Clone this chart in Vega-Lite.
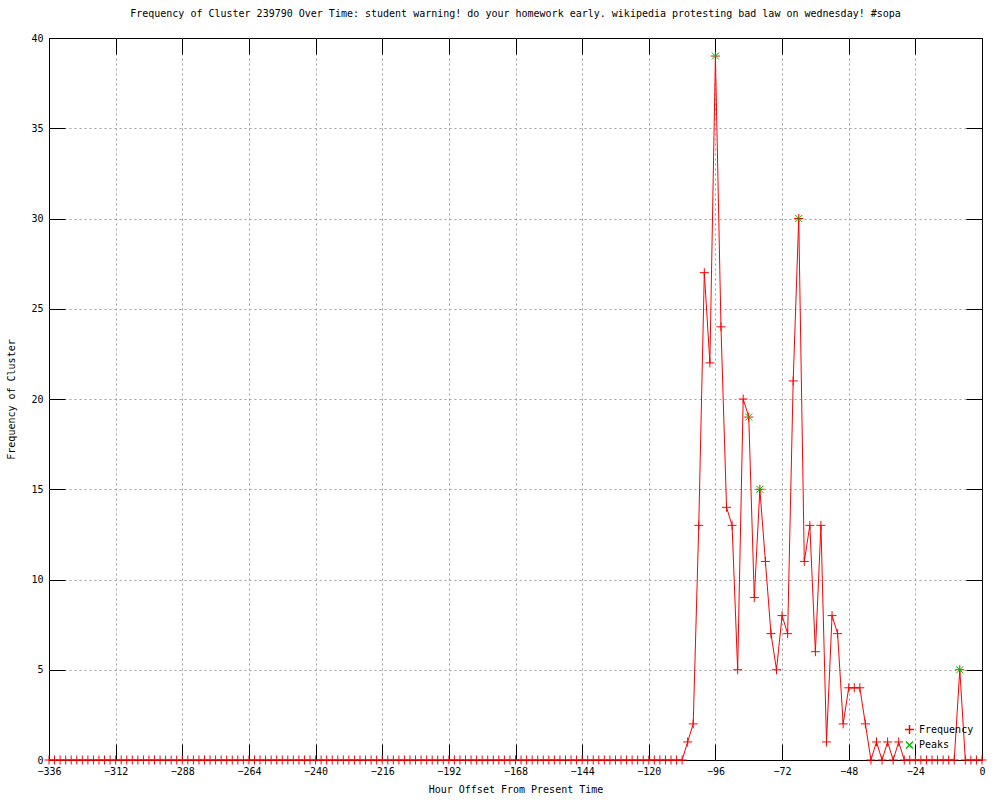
{
  "$schema": "https://vega.github.io/schema/vega-lite/v6.json",
  "autosize": "none",
  "width": 933,
  "height": 722,
  "padding": {"left": 49, "top": 38, "right": 18, "bottom": 40},
  "background": "white",
  "config": {
    "font": "DejaVu Sans Mono",
    "view": {"stroke": "black", "strokeWidth": 1},
    "axis": {
      "labelFont": "DejaVu Sans Mono",
      "titleFont": "DejaVu Sans Mono",
      "labelFontSize": 10,
      "titleFontSize": 10,
      "titleFontWeight": "normal",
      "labelColor": "black",
      "titleColor": "black",
      "domain": false,
      "tickColor": "black",
      "tickSize": -16,
      "gridColor": "#a0a0a0",
      "gridDash": [2, 3]
    },
    "legend": {
      "labelFont": "DejaVu Sans Mono",
      "labelFontSize": 10,
      "labelColor": "black"
    }
  },
  "title": {
    "text": "Frequency of Cluster 239790 Over Time: student warning! do your homework early. wikipedia protesting bad law on wednesday! #sopa",
    "font": "DejaVu Sans Mono",
    "fontSize": 10,
    "fontWeight": "normal",
    "color": "black",
    "offset": 14
  },
  "data": {
    "values": [
      {"hour": -336, "count": 0, "series": "Frequency"},
      {"hour": -334, "count": 0, "series": "Frequency"},
      {"hour": -332, "count": 0, "series": "Frequency"},
      {"hour": -330, "count": 0, "series": "Frequency"},
      {"hour": -328, "count": 0, "series": "Frequency"},
      {"hour": -326, "count": 0, "series": "Frequency"},
      {"hour": -324, "count": 0, "series": "Frequency"},
      {"hour": -322, "count": 0, "series": "Frequency"},
      {"hour": -320, "count": 0, "series": "Frequency"},
      {"hour": -318, "count": 0, "series": "Frequency"},
      {"hour": -316, "count": 0, "series": "Frequency"},
      {"hour": -314, "count": 0, "series": "Frequency"},
      {"hour": -312, "count": 0, "series": "Frequency"},
      {"hour": -310, "count": 0, "series": "Frequency"},
      {"hour": -308, "count": 0, "series": "Frequency"},
      {"hour": -306, "count": 0, "series": "Frequency"},
      {"hour": -304, "count": 0, "series": "Frequency"},
      {"hour": -302, "count": 0, "series": "Frequency"},
      {"hour": -300, "count": 0, "series": "Frequency"},
      {"hour": -298, "count": 0, "series": "Frequency"},
      {"hour": -296, "count": 0, "series": "Frequency"},
      {"hour": -294, "count": 0, "series": "Frequency"},
      {"hour": -292, "count": 0, "series": "Frequency"},
      {"hour": -290, "count": 0, "series": "Frequency"},
      {"hour": -288, "count": 0, "series": "Frequency"},
      {"hour": -286, "count": 0, "series": "Frequency"},
      {"hour": -284, "count": 0, "series": "Frequency"},
      {"hour": -282, "count": 0, "series": "Frequency"},
      {"hour": -280, "count": 0, "series": "Frequency"},
      {"hour": -278, "count": 0, "series": "Frequency"},
      {"hour": -276, "count": 0, "series": "Frequency"},
      {"hour": -274, "count": 0, "series": "Frequency"},
      {"hour": -272, "count": 0, "series": "Frequency"},
      {"hour": -270, "count": 0, "series": "Frequency"},
      {"hour": -268, "count": 0, "series": "Frequency"},
      {"hour": -266, "count": 0, "series": "Frequency"},
      {"hour": -264, "count": 0, "series": "Frequency"},
      {"hour": -262, "count": 0, "series": "Frequency"},
      {"hour": -260, "count": 0, "series": "Frequency"},
      {"hour": -258, "count": 0, "series": "Frequency"},
      {"hour": -256, "count": 0, "series": "Frequency"},
      {"hour": -254, "count": 0, "series": "Frequency"},
      {"hour": -252, "count": 0, "series": "Frequency"},
      {"hour": -250, "count": 0, "series": "Frequency"},
      {"hour": -248, "count": 0, "series": "Frequency"},
      {"hour": -246, "count": 0, "series": "Frequency"},
      {"hour": -244, "count": 0, "series": "Frequency"},
      {"hour": -242, "count": 0, "series": "Frequency"},
      {"hour": -240, "count": 0, "series": "Frequency"},
      {"hour": -238, "count": 0, "series": "Frequency"},
      {"hour": -236, "count": 0, "series": "Frequency"},
      {"hour": -234, "count": 0, "series": "Frequency"},
      {"hour": -232, "count": 0, "series": "Frequency"},
      {"hour": -230, "count": 0, "series": "Frequency"},
      {"hour": -228, "count": 0, "series": "Frequency"},
      {"hour": -226, "count": 0, "series": "Frequency"},
      {"hour": -224, "count": 0, "series": "Frequency"},
      {"hour": -222, "count": 0, "series": "Frequency"},
      {"hour": -220, "count": 0, "series": "Frequency"},
      {"hour": -218, "count": 0, "series": "Frequency"},
      {"hour": -216, "count": 0, "series": "Frequency"},
      {"hour": -214, "count": 0, "series": "Frequency"},
      {"hour": -212, "count": 0, "series": "Frequency"},
      {"hour": -210, "count": 0, "series": "Frequency"},
      {"hour": -208, "count": 0, "series": "Frequency"},
      {"hour": -206, "count": 0, "series": "Frequency"},
      {"hour": -204, "count": 0, "series": "Frequency"},
      {"hour": -202, "count": 0, "series": "Frequency"},
      {"hour": -200, "count": 0, "series": "Frequency"},
      {"hour": -198, "count": 0, "series": "Frequency"},
      {"hour": -196, "count": 0, "series": "Frequency"},
      {"hour": -194, "count": 0, "series": "Frequency"},
      {"hour": -192, "count": 0, "series": "Frequency"},
      {"hour": -190, "count": 0, "series": "Frequency"},
      {"hour": -188, "count": 0, "series": "Frequency"},
      {"hour": -186, "count": 0, "series": "Frequency"},
      {"hour": -184, "count": 0, "series": "Frequency"},
      {"hour": -182, "count": 0, "series": "Frequency"},
      {"hour": -180, "count": 0, "series": "Frequency"},
      {"hour": -178, "count": 0, "series": "Frequency"},
      {"hour": -176, "count": 0, "series": "Frequency"},
      {"hour": -174, "count": 0, "series": "Frequency"},
      {"hour": -172, "count": 0, "series": "Frequency"},
      {"hour": -170, "count": 0, "series": "Frequency"},
      {"hour": -168, "count": 0, "series": "Frequency"},
      {"hour": -166, "count": 0, "series": "Frequency"},
      {"hour": -164, "count": 0, "series": "Frequency"},
      {"hour": -162, "count": 0, "series": "Frequency"},
      {"hour": -160, "count": 0, "series": "Frequency"},
      {"hour": -158, "count": 0, "series": "Frequency"},
      {"hour": -156, "count": 0, "series": "Frequency"},
      {"hour": -154, "count": 0, "series": "Frequency"},
      {"hour": -152, "count": 0, "series": "Frequency"},
      {"hour": -150, "count": 0, "series": "Frequency"},
      {"hour": -148, "count": 0, "series": "Frequency"},
      {"hour": -146, "count": 0, "series": "Frequency"},
      {"hour": -144, "count": 0, "series": "Frequency"},
      {"hour": -142, "count": 0, "series": "Frequency"},
      {"hour": -140, "count": 0, "series": "Frequency"},
      {"hour": -138, "count": 0, "series": "Frequency"},
      {"hour": -136, "count": 0, "series": "Frequency"},
      {"hour": -134, "count": 0, "series": "Frequency"},
      {"hour": -132, "count": 0, "series": "Frequency"},
      {"hour": -130, "count": 0, "series": "Frequency"},
      {"hour": -128, "count": 0, "series": "Frequency"},
      {"hour": -126, "count": 0, "series": "Frequency"},
      {"hour": -124, "count": 0, "series": "Frequency"},
      {"hour": -122, "count": 0, "series": "Frequency"},
      {"hour": -120, "count": 0, "series": "Frequency"},
      {"hour": -118, "count": 0, "series": "Frequency"},
      {"hour": -116, "count": 0, "series": "Frequency"},
      {"hour": -114, "count": 0, "series": "Frequency"},
      {"hour": -112, "count": 0, "series": "Frequency"},
      {"hour": -110, "count": 0, "series": "Frequency"},
      {"hour": -108, "count": 0, "series": "Frequency"},
      {"hour": -106, "count": 1, "series": "Frequency"},
      {"hour": -104, "count": 2, "series": "Frequency"},
      {"hour": -102, "count": 13, "series": "Frequency"},
      {"hour": -100, "count": 27, "series": "Frequency"},
      {"hour": -98, "count": 22, "series": "Frequency"},
      {"hour": -96, "count": 39, "series": "Frequency"},
      {"hour": -94, "count": 24, "series": "Frequency"},
      {"hour": -92, "count": 14, "series": "Frequency"},
      {"hour": -90, "count": 13, "series": "Frequency"},
      {"hour": -88, "count": 5, "series": "Frequency"},
      {"hour": -86, "count": 20, "series": "Frequency"},
      {"hour": -84, "count": 19, "series": "Frequency"},
      {"hour": -82, "count": 9, "series": "Frequency"},
      {"hour": -80, "count": 15, "series": "Frequency"},
      {"hour": -78, "count": 11, "series": "Frequency"},
      {"hour": -76, "count": 7, "series": "Frequency"},
      {"hour": -74, "count": 5, "series": "Frequency"},
      {"hour": -72, "count": 8, "series": "Frequency"},
      {"hour": -70, "count": 7, "series": "Frequency"},
      {"hour": -68, "count": 21, "series": "Frequency"},
      {"hour": -66, "count": 30, "series": "Frequency"},
      {"hour": -64, "count": 11, "series": "Frequency"},
      {"hour": -62, "count": 13, "series": "Frequency"},
      {"hour": -60, "count": 6, "series": "Frequency"},
      {"hour": -58, "count": 13, "series": "Frequency"},
      {"hour": -56, "count": 1, "series": "Frequency"},
      {"hour": -54, "count": 8, "series": "Frequency"},
      {"hour": -52, "count": 7, "series": "Frequency"},
      {"hour": -50, "count": 2, "series": "Frequency"},
      {"hour": -48, "count": 4, "series": "Frequency"},
      {"hour": -46, "count": 4, "series": "Frequency"},
      {"hour": -44, "count": 4, "series": "Frequency"},
      {"hour": -42, "count": 2, "series": "Frequency"},
      {"hour": -40, "count": 0, "series": "Frequency"},
      {"hour": -38, "count": 1, "series": "Frequency"},
      {"hour": -36, "count": 0, "series": "Frequency"},
      {"hour": -34, "count": 1, "series": "Frequency"},
      {"hour": -32, "count": 0, "series": "Frequency"},
      {"hour": -30, "count": 1, "series": "Frequency"},
      {"hour": -28, "count": 0, "series": "Frequency"},
      {"hour": -26, "count": 0, "series": "Frequency"},
      {"hour": -24, "count": 0, "series": "Frequency"},
      {"hour": -22, "count": 0, "series": "Frequency"},
      {"hour": -20, "count": 0, "series": "Frequency"},
      {"hour": -18, "count": 0, "series": "Frequency"},
      {"hour": -16, "count": 0, "series": "Frequency"},
      {"hour": -14, "count": 0, "series": "Frequency"},
      {"hour": -12, "count": 0, "series": "Frequency"},
      {"hour": -10, "count": 0, "series": "Frequency"},
      {"hour": -8, "count": 5, "series": "Frequency"},
      {"hour": -6, "count": 0, "series": "Frequency"},
      {"hour": -4, "count": 0, "series": "Frequency"},
      {"hour": -2, "count": 0, "series": "Frequency"},
      {"hour": 0, "count": 0, "series": "Frequency"},
      {"hour": -96, "count": 39, "series": "Peaks"},
      {"hour": -84, "count": 19, "series": "Peaks"},
      {"hour": -80, "count": 15, "series": "Peaks"},
      {"hour": -66, "count": 30, "series": "Peaks"},
      {"hour": -8, "count": 5, "series": "Peaks"}
    ]
  },
  "encoding": {
    "color": {
      "field": "series",
      "type": "nominal",
      "scale": {"domain": ["Frequency", "Peaks"], "range": ["#ff0000", "#00c000"]},
      "legend": {"title": null, "orient": "bottom-right", "offset": 8, "rowPadding": 1}
    }
  },
  "layer": [
    {
      "transform": [{"filter": "datum.series === 'Frequency'"}],
      "mark": {"type": "line", "strokeWidth": 1, "interpolate": "linear"},
      "encoding": {
        "x": {
          "field": "hour",
          "type": "quantitative",
          "scale": {"domain": [-336, 0], "nice": false, "zero": false},
          "axis": {
            "title": "Hour Offset From Present Time",
            "values": [-336, -312, -288, -264, -240, -216, -192, -168, -144, -120, -96, -72, -48, -24, 0],
            "format": "d",
            "labelPadding": 22,
            "titlePadding": 8,
            "labelFlush": false,
            "gridOpacity": {"condition": {"test": "datum.value === -336 || datum.value === 0", "value": 0}, "value": 1}
          }
        },
        "y": {
          "field": "count",
          "type": "quantitative",
          "scale": {"domain": [0, 40], "nice": false},
          "axis": {
            "title": "Frequency of Cluster",
            "values": [0, 5, 10, 15, 20, 25, 30, 35, 40],
            "labelPadding": 22,
            "titlePadding": 14,
            "labelFlush": false,
            "gridOpacity": {"condition": {"test": "datum.value === 0 || datum.value === 40", "value": 0}, "value": 1}
          }
        }
      }
    },
    {
      "mark": {"type": "point", "filled": false, "strokeWidth": 1, "opacity": 1},
      "encoding": {
        "x": {
          "field": "hour",
          "type": "quantitative",
          "axis": {
            "orient": "top",
            "title": null,
            "labels": false,
            "grid": false,
            "values": [-336, -312, -288, -264, -240, -216, -192, -168, -144, -120, -96, -72, -48, -24, 0]
          }
        },
        "y": {
          "field": "count",
          "type": "quantitative",
          "axis": {
            "orient": "right",
            "title": null,
            "labels": false,
            "grid": false,
            "values": [0, 5, 10, 15, 20, 25, 30, 35, 40]
          }
        },
        "shape": {
          "field": "series",
          "type": "nominal",
          "scale": {"domain": ["Frequency", "Peaks"], "range": ["M-1,0L1,0M0,-1L0,1", "M-1,-1L1,1M-1,1L1,-1"]},
          "legend": {"title": null}
        },
        "size": {
          "field": "series",
          "type": "nominal",
          "scale": {"domain": ["Frequency", "Peaks"], "range": [81, 49]},
          "legend": null
        },
        "order": {"field": "series"}
      }
    }
  ],
  "resolve": {"axis": {"x": "independent", "y": "independent"}}
}
